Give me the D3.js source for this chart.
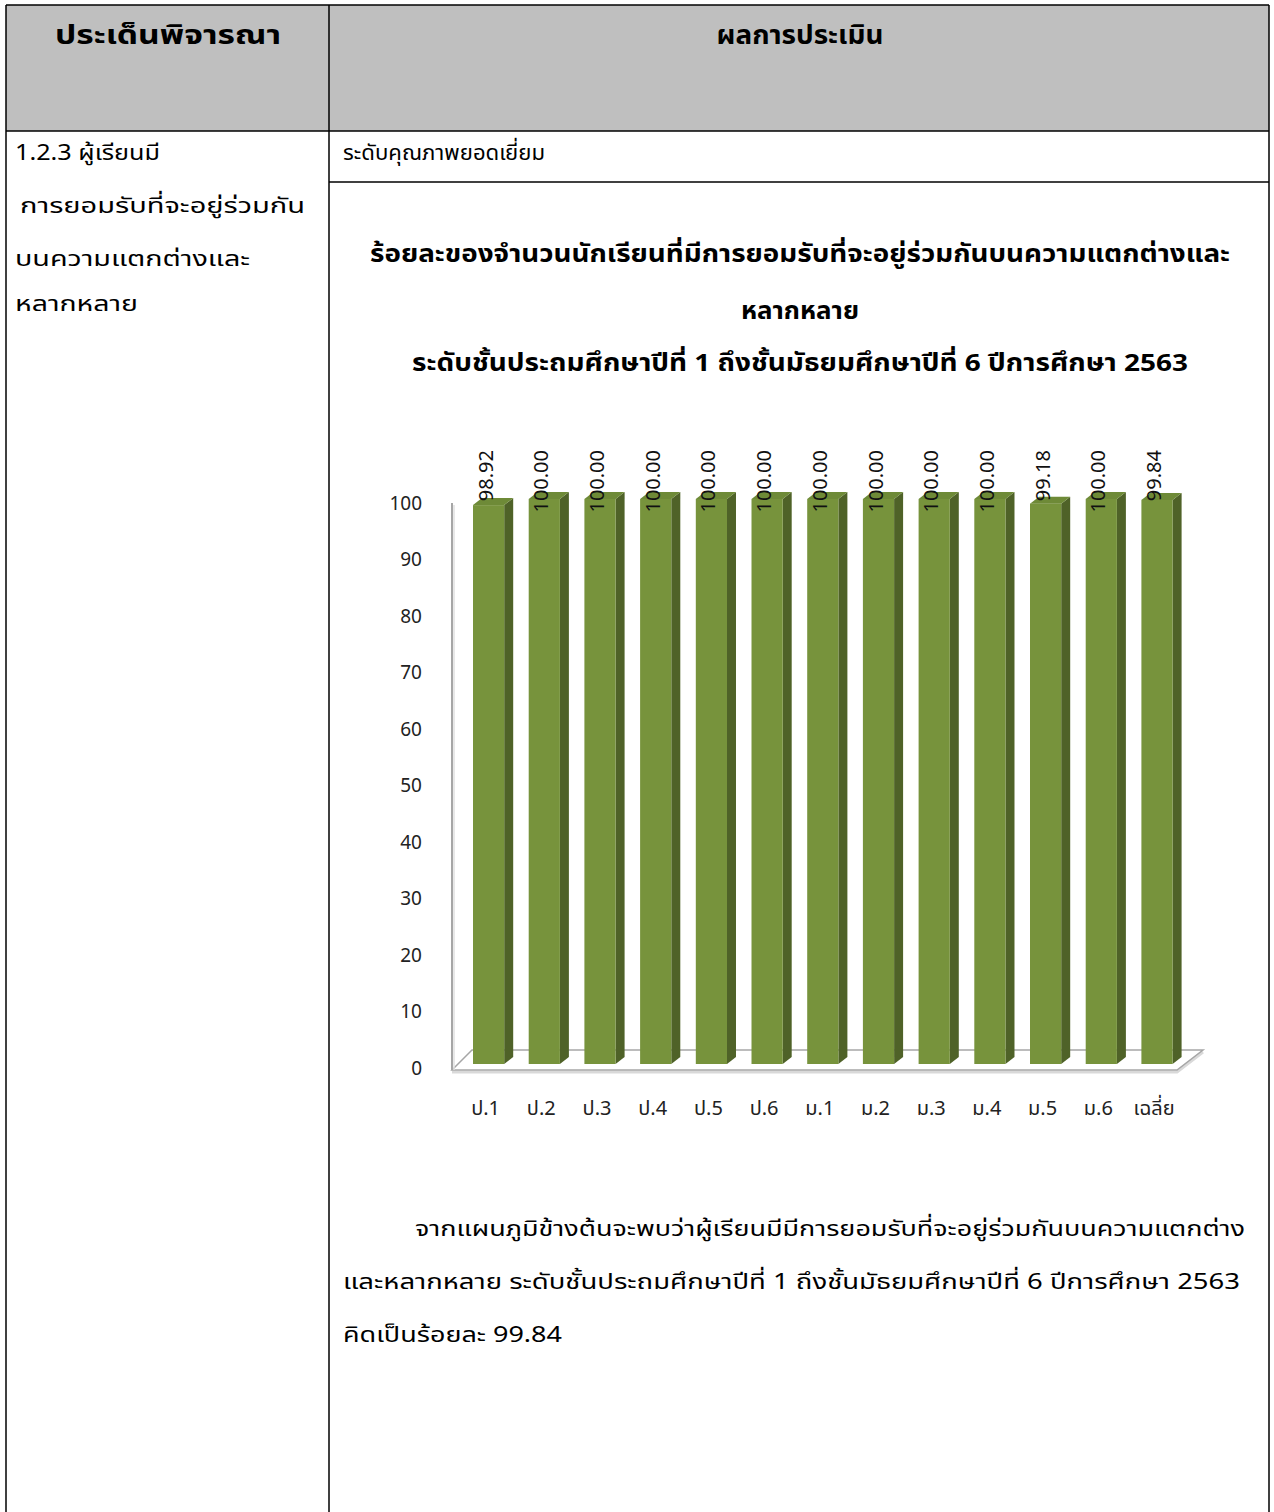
<!DOCTYPE html>
<html><head><meta charset="utf-8">
<script src="https://cdn.jsdelivr.net/npm/d3@7"></script>
<style>
html,body{margin:0;padding:0;background:#fff;}
svg text{font-family:"Noto Sans Thai","Loma","Garuda","Noto Sans","DejaVu Sans",sans-serif;}
</style></head>
<body><svg id="c" width="1274" height="1512"></svg>
<script>
const categories = ['ป.1','ป.2','ป.3','ป.4','ป.5','ป.6','ม.1','ม.2','ม.3','ม.4','ม.5','ม.6','เฉลี่ย'];
const values = [98.92,100.00,100.00,100.00,100.00,100.00,100.00,100.00,100.00,100.00,99.18,100.00,99.84];
const yTicks = [0,10,20,30,40,50,60,70,80,90,100];
const headerTexts = ['ประเด็นพิจารณา','ผลการประเมิน'];
const leftLines = ['1.2.3 ผู้เรียนมี',' การยอมรับที่จะอยู่ร่วมกัน','บนความแตกต่างและ','หลากหลาย'];
const levelText = 'ระดับคุณภาพยอดเยี่ยม';
const titleLines = ['ร้อยละของจำนวนนักเรียนที่มีการยอมรับที่จะอยู่ร่วมกันบนความแตกต่างและ','หลากหลาย','ระดับชั้นประถมศึกษาปีที่ 1 ถึงชั้นมัธยมศึกษาปีที่ 6 ปีการศึกษา 2563'];
const paraLines = ['จากแผนภูมิข้างต้นจะพบว่าผู้เรียนมีมีการยอมรับที่จะอยู่ร่วมกันบนความแตกต่าง','และหลากหลาย ระดับชั้นประถมศึกษาปีที่ 1 ถึงชั้นมัธยมศึกษาปีที่ 6 ปีการศึกษา 2563','คิดเป็นร้อยละ 99.84'];

const svg = d3.select('#c');
// table
const L=6, M=329, R=1269, T=5, HB=131, RB=182;
svg.append('rect').attr('x',L).attr('y',T).attr('width',R-L).attr('height',HB-T).attr('fill','#bfbfbf');
const ln=(x1,y1,x2,y2)=>svg.append('line').attr('x1',x1).attr('y1',y1).attr('x2',x2).attr('y2',y2).attr('stroke','#000').attr('stroke-width',1.5);
ln(L,T,R,T); ln(L,HB,R,HB); ln(M,RB,R,RB);
ln(L,T,L,1512); ln(M,T,M,1512); ln(R,T,R,1512);

// text helper: x, visual center y, font size, target width, anchor, bold
function txt(t,x,cy,fs,w,anchor,bold){
  const el = svg.append('text').attr('x',x).attr('y',cy+0.36*fs).attr('font-size',fs)
    .attr('text-anchor',anchor||'start').attr('font-weight',bold?'bold':'normal').text(t);
  if(w){el.attr('textLength',w).attr('lengthAdjust','spacingAndGlyphs');}
  return el;
}
txt(headerTexts[0],168,35,26,226,'middle',true);
txt(headerTexts[1],800,35,26,167,'middle',true);

const leftX=[15,20,15,15], leftY=[152,205,258,303], leftW=[145,285,235,123];
leftLines.forEach((t,i)=>txt(t.trim(),leftX[i],leftY[i],22,leftW[i]));
txt(levelText,343,152,22,202);

const titleY=[253,310,362], titleW=[860,118,776];
titleLines.forEach((t,i)=>txt(t,800,titleY[i],24,titleW[i],'middle',true));

const paraX=[415,343,343], paraY=[1228,1281,1334], paraW=[830,897,219];
paraLines.forEach((t,i)=>txt(t,paraX[i],paraY[i],22,paraW[i]));

// chart
const x = d3.scaleBand().domain(categories).range([460.75,1184.85]).paddingInner(0.44).paddingOuter(0.22);
const y = d3.scaleLinear().domain([0,100]).range([1064,499]);
const dx=9, dy=-7;
const g = svg.append('g');

// floor
const fl=452, fr=1177, fy=1070, bl=472, br=1203, by=1050;
g.append('path').attr('d',`M${fl},${fy+2}L${fr},${fy+2}L${br},${by+2}`).attr('fill','none').attr('stroke','#d9d9d9').attr('stroke-width',3);
g.append('path').attr('d',`M${fl},${fy}L${bl},${by}L${br},${by}L${fr},${fy}Z`).attr('fill','#fff').attr('stroke','#a6a6a6').attr('stroke-width',1.5);
g.append('line').attr('x1',fl).attr('x2',fl).attr('y1',y(100)+4).attr('y2',fy).attr('stroke','#a6a6a6').attr('stroke-width',2);
g.append('line').attr('x1',fl+2).attr('x2',fl+2).attr('y1',y(100)+6).attr('y2',fy).attr('stroke','#e0e0e0').attr('stroke-width',1.5);

// y axis labels
g.selectAll('.yt').data(yTicks).join('text').attr('x',422).attr('y',d=>y(d)+4).attr('dy','0.35em').attr('text-anchor','end').attr('font-size',19).attr('fill','#222').text(d=>d);

// bars
const bw = x.bandwidth();
const bars = g.selectAll('.bar').data(values).join('g');
bars.append('path').attr('d',(d,i)=>{const x0=x(categories[i]), y0=y(d), y1=y(0);return `M${x0+bw},${y0}L${x0+bw+dx},${y0+dy}L${x0+bw+dx},${y1+dy}L${x0+bw},${y1}Z`;}).attr('fill','#4f6228');
bars.append('path').attr('d',(d,i)=>{const x0=x(categories[i]), y0=y(d);return `M${x0},${y0}L${x0+dx},${y0+dy}L${x0+bw+dx},${y0+dy}L${x0+bw},${y0}Z`;}).attr('fill','#6e8a37');
bars.append('rect').attr('x',(d,i)=>x(categories[i])).attr('y',d=>y(d)).attr('width',bw).attr('height',d=>y(0)-y(d)).attr('fill','#77933c');

// value labels
g.selectAll('.vl').data(values).join('text').attr('transform',(d,i)=>`translate(${x(categories[i])+bw/2+4},450) rotate(-90)`).attr('text-anchor','end').attr('font-size',20).attr('fill','#111').text(d=>d.toFixed(2));

// category labels
g.selectAll('.cl').data(categories).join('text').attr('x',d=>x(d)+bw/2-3).attr('y',1108).attr('dy','0.35em').attr('text-anchor','middle').attr('font-size',20).attr('fill','#222').text(d=>d);
</script></body></html>
